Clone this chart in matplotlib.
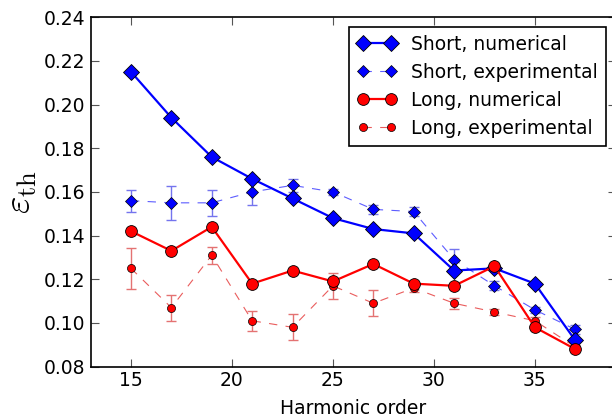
import matplotlib
matplotlib.use('Agg')
import matplotlib.pyplot as plt
import numpy as np

harmonics = [15, 17, 19, 21, 23, 25, 27, 29, 31, 33, 35, 37]

short_num = [0.215, 0.194, 0.176, 0.166, 0.157, 0.148, 0.143, 0.141, 0.124, 0.125, 0.118, 0.092]
short_exp = [0.156, 0.155, 0.155, 0.160, 0.163, 0.160, 0.152, 0.151, 0.129, 0.117, 0.106, 0.097]
short_err = [0.005, 0.0077, 0.006, 0.006, 0.003, 0.0015, 0.002, 0.002, 0.005, 0.002, 0.0015, 0.002]

long_num = [0.142, 0.133, 0.144, 0.118, 0.124, 0.119, 0.127, 0.118, 0.117, 0.126, 0.098, 0.088]
long_exp = [0.125, 0.107, 0.131, 0.101, 0.098, 0.117, 0.109, 0.116, 0.109, 0.105, 0.101, 0.089]
long_err = [0.0095, 0.006, 0.004, 0.0045, 0.006, 0.006, 0.006, 0.002, 0.0025, 0.0015, 0.0015, 0.001]

plt.rcParams['font.family'] = 'DejaVu Sans'
plt.rcParams['mathtext.fontset'] = 'cm'
plt.rcParams['xtick.direction'] = 'in'
plt.rcParams['ytick.direction'] = 'in'

fig = plt.figure(figsize=(6.12, 4.19), dpi=100)
ax = fig.add_axes([0.148, 0.125, 0.858, 0.834])

# numerical results: solid lines, big markers
ax.plot(harmonics, short_num, '-D', color='blue', lw=1.6, ms=8,
        mec='black', mew=0.6, label='Short, numerical', zorder=4)
ax.plot(harmonics, long_num, '-o', color='red', lw=1.6, ms=8.5,
        mec='black', mew=0.6, label='Long, numerical', zorder=4)

# experimental results: dashed, lighter lines, error bars
ax.errorbar(harmonics, short_exp, yerr=short_err, fmt='none', ecolor='#7474ee',
            elinewidth=1.0, capsize=3.6, capthick=1.0, zorder=2)
ax.plot(harmonics, short_exp, '--D', color=(0.25, 0.25, 1.0, 0.85), mfc='blue',
        lw=0.8, ms=6.5, mec='black', mew=0.5, dashes=(7.5, 7.5),
        label='Short, experimental', zorder=3)
ax.errorbar(harmonics, long_exp, yerr=long_err, fmt='none', ecolor='#e47272',
            elinewidth=1.0, capsize=3.6, capthick=1.0, zorder=2)
ax.plot(harmonics, long_exp, '--o', color=(0.9, 0.25, 0.25, 0.85), mfc='red',
        lw=0.8, ms=5.8, mec='black', mew=0.5, dashes=(7.5, 7.5),
        label='Long, experimental', zorder=3)

ax.set_xlim(13, 39)
ax.set_ylim(0.08, 0.24)
ax.set_xticks([15, 20, 25, 30, 35])
ax.set_yticks(np.arange(0.08, 0.2401, 0.02))
ax.yaxis.set_major_formatter(matplotlib.ticker.FormatStrFormatter('%.2f'))
ax.tick_params(axis='both', labelsize=13.5, top=True, right=True, length=6,
               width=0.8, color='#555555')
for s in ax.spines.values():
    s.set_linewidth(1.2)

ax.set_xlabel('Harmonic order', fontsize=13.5, labelpad=6)
ax.set_ylabel(r'$\varepsilon_{\rm th}$', fontsize=27, labelpad=4)

handles, labels = ax.get_legend_handles_labels()
order = [0, 2, 1, 3]
leg = ax.legend([handles[i] for i in order], [labels[i] for i in order],
                loc='upper right', fontsize=13.5, numpoints=2, fancybox=False,
                borderpad=0.45, labelspacing=0.48, handlelength=2.07,
                handletextpad=0.77, borderaxespad=0.5)
leg.get_frame().set_edgecolor('black')
leg.get_frame().set_linewidth(1.2)
leg.get_frame().set_alpha(1)

fig.savefig('out.png', dpi=100)
